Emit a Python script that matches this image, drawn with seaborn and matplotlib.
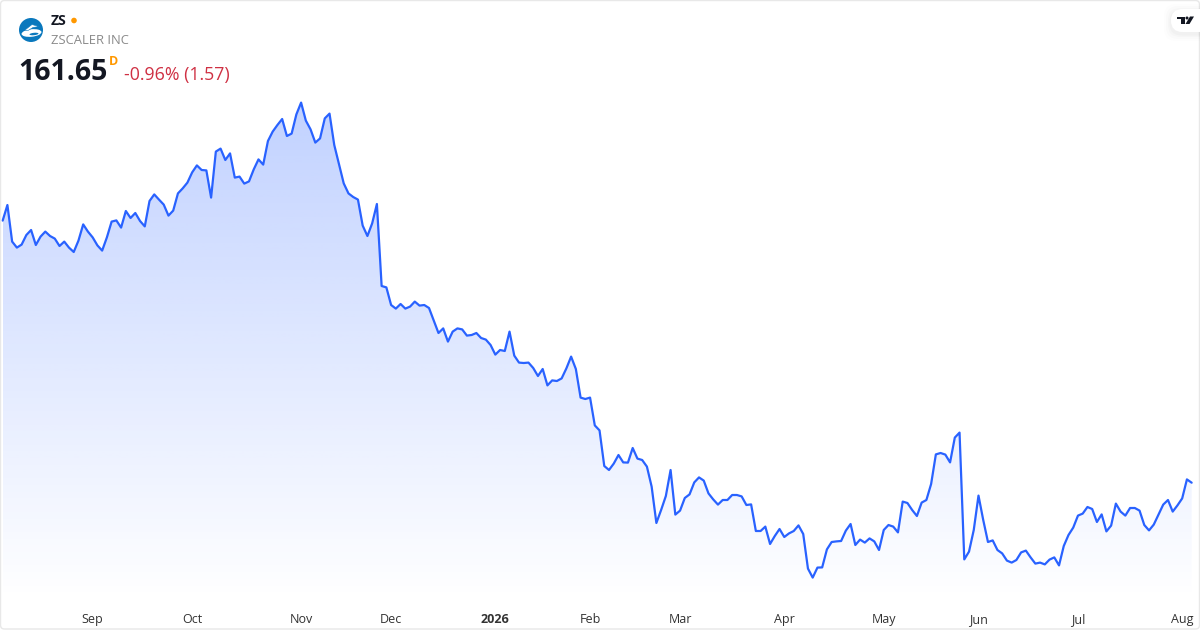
import numpy as np
import pandas as pd
import seaborn as sns
import matplotlib.pyplot as plt
from matplotlib.patches import Circle, FancyBboxPatch, Polygon, Ellipse

# daily closes (no price axis, so the scale is anchored on the last close)
close_2025_a = [
    292.7, 300.5, 282.2, 279.2, 280.7, 285.5, 288.0, 280.5, 284.7, 287.2, 285.0, 283.7, 280.0, 282.2,
    279.2, 277.0, 282.7, 290.8, 287.2, 284.3, 280.3, 277.7, 284.3, 292.2, 292.8, 289.2, 297.5, 294.0,
    296.5, 292.5, 289.8, 302.5, 305.8, 303.2, 300.7, 295.2, 297.7, 306.3, 308.8, 311.7, 316.8, 320.3,
    318.0, 317.8, 304.2, 327.2, 328.7, 323.0, 326.3, 314.2, 314.7, 311.2, 312.3, 318.3, 323.3, 320.7,
    332.5, 337.2, 340.5, 343.5, 335.0, 336.2, 345.8, 351.7, 342.7, 338.3, 331.7, 333.8, 343.8, 346.2,
    330.5, 321.0, 311.3, 306.3, 304.5, 303.2, 290.2, 285.0, 291.3, 301.0, 260.0, 259.3, 250.5, 248.7,
]
close_2025_b = [
    251.0, 248.7, 249.7, 252.2, 250.2, 250.5, 249.0, 242.7, 236.5, 238.8, 232.2, 237.2, 238.8, 238.3,
    235.2, 235.5, 236.5, 234.0, 233.2, 230.5, 225.7, 228.0, 227.5, 237.2, 225.2, 221.7, 221.5, 221.7,
    219.0, 215.0, 218.5, 210.3, 212.8, 212.5, 213.8, 218.8, 224.7, 218.5, 204.2, 203.5, 204.2, 190.3,
    187.8, 170.0, 168.0, 171.2, 175.5, 171.8, 171.7, 179.0, 173.7, 173.0, 169.7, 159.7, 141.5, 148.0,
    155.0, 168.0, 145.7, 147.7, 154.0, 155.8, 161.8, 164.3, 162.7, 156.3, 153.3, 150.7, 153.0, 153.0,
    155.5, 155.5, 154.8, 150.5, 150.8, 137.5, 137.5, 139.7,
]
close_2026 = [
    131.0, 135.0, 138.5, 134.5, 136.3, 137.5, 140.3, 136.0, 118.7, 114.2, 119.2, 119.3, 128.3, 132.0,
    132.3, 132.5, 137.7, 141.0, 130.5, 133.2, 131.7, 133.8, 132.3, 128.0, 138.0, 140.5, 139.7, 136.8,
    152.2, 151.5, 148.0, 145.0, 151.7, 153.0, 161.0, 175.8, 176.5, 175.7, 171.8, 184.2, 186.7, 123.3,
    127.2, 138.0, 155.2, 143.0, 132.0, 132.8, 128.0, 126.3, 122.7, 121.7, 123.0, 126.8, 127.7, 124.3,
    121.2, 121.7, 120.8, 123.2, 124.3, 120.3, 130.0, 135.5, 139.2, 145.2, 146.2, 149.5, 148.5, 142.0,
    145.8, 137.3, 140.2, 151.2, 147.2, 145.2, 149.0, 149.0, 147.7, 140.5, 137.8, 140.7, 145.7, 150.7,
    153.0, 147.2, 150.3, 153.8, 163.3, 161.65,
]
tick_labels = ["Sep", "Oct", "Nov", "Dec", "2026", "Feb", "Mar", "Apr", "May", "Jun", "Jul", "Aug"]
tick_sessions = [19, 40, 63, 82, 104, 124, 143, 165, 186, 206, 227, 249]

LINE_COLOR = "#2962FF"
TEXT_FONT = "Open Sans"

close = close_2025_a + close_2025_b + close_2026
df = pd.DataFrame({"session": np.arange(len(close)), "close": close})

sns.set_theme(style="white")
plt.rcParams["font.family"] = [TEXT_FONT, "DejaVu Sans"]

fig = plt.figure(figsize=(12, 6.3), dpi=100, facecolor="white")
ax = fig.add_axes([0, 0, 1, 1])

# one session is 4.737 px, first one sits 2.67 px from the left edge
step = 4.737
ax.set_xlim(-2.67 / step, (1200 - 2.67) / step)
ax.set_ylim(88, 403)

# area under the line with a vertical fade
poly = ax.fill_between(df["session"], df["close"], 88, color="none", linewidth=0)
grad = np.zeros((256, 2, 4))
grad[..., :3] = np.array([41, 98, 255]) / 255
grad[..., 3] = np.linspace(0.29, 0.0, 256)[:, None]
im = ax.imshow(grad, extent=(0, len(close) - 1, 103, 352), origin="upper", aspect="auto",
               interpolation="bilinear", zorder=1)
ax.set_xlim(-2.67 / step, (1200 - 2.67) / step)
ax.set_ylim(88, 403)
im.set_clip_path(poly.get_paths()[0], transform=ax.transData)

sns.lineplot(data=df, x="session", y="close", ax=ax, color=LINE_COLOR, linewidth=1.6, zorder=3,
             errorbar=None)

ax.set_xlabel("")
ax.set_ylabel("")
ax.set_yticks([])
ax.set_xticks(tick_sessions)
ax.set_xticklabels(tick_labels)
ax.tick_params(axis="x", direction="in", pad=-12, length=0, labelsize=9, labelcolor="#333333")
ax.get_xticklabels()[4].set_fontweight("bold")
for spine in ax.spines.values():
    spine.set_visible(False)

# header, logo and card drawn in pixel coordinates on top
top = fig.add_axes([0, 0, 1, 1], facecolor="none")
top.set_xlim(0, 1200)
top.set_ylim(630, 0)
top.axis("off")

top.add_patch(FancyBboxPatch((0.5, 0.5), 1199, 628.5, boxstyle="round,pad=0,rounding_size=4",
                             fill=False, edgecolor="#e8e8e8", linewidth=1.0))

top.add_patch(Circle((31, 30), 12, facecolor="#0a78bd", edgecolor="none"))
top.add_patch(Ellipse((31.5, 33), 20, 7.5, angle=-6, facecolor="white", edgecolor="none"))
top.add_patch(Ellipse((34, 34), 9, 2.4, angle=-6, facecolor="#0a78bd", edgecolor="none"))
top.add_patch(Polygon([[25, 30], [32, 24.5], [39, 26.5], [33, 27.5], [28, 30.5]],
                      facecolor="white", edgecolor="#0a78bd", linewidth=0.4))

top.text(51, 21, "ZS", fontsize=10, fontweight="bold", color="#131722", va="center", ha="left")
top.add_patch(Circle((74, 20.5), 2.8, facecolor="#ff9800", edgecolor="none"))
top.text(51, 40.5, "ZSCALER INC", fontsize=9.35, color="#8a8a8a", va="center", ha="left")
top.text(18.5, 73, "161.65", fontsize=20.5, fontweight="bold", color="#131722", va="center", ha="left")
top.text(109, 61.5, "D", fontsize=9, fontweight="bold", color="#ff9800", va="center", ha="left")
top.text(124, 75, "-0.96% (1.57)", fontsize=12.75, color="#cf3043", va="center", ha="left")

# TradingView tab, soft shadow below then white pill with the logo shapes
for grow, alpha in [(7, 0.008), (5, 0.012), (3, 0.016), (1.5, 0.02)]:
    top.add_patch(FancyBboxPatch((1171 - grow, 9 - grow + 2), 40 + 2 * grow, 23 + 2 * grow,
                                 boxstyle="round,pad=0,rounding_size=12", facecolor="black",
                                 edgecolor="none", alpha=alpha))
top.add_patch(FancyBboxPatch((1171, 9), 40, 23, boxstyle="round,pad=0,rounding_size=11.5",
                             facecolor="white", edgecolor="none"))
top.add_patch(Polygon([[1177, 16.5], [1185, 16.5], [1185, 24], [1181.2, 24], [1181.2, 19.3], [1177, 19.3]],
                      facecolor="#131722", edgecolor="none"))
top.add_patch(Circle((1187, 18), 1.5, facecolor="#131722", edgecolor="none"))
top.add_patch(Polygon([[1190, 16.5], [1194, 16.5], [1189.5, 24], [1185.5, 24]],
                      facecolor="#131722", edgecolor="none"))

fig.savefig("out.png", dpi=100)
